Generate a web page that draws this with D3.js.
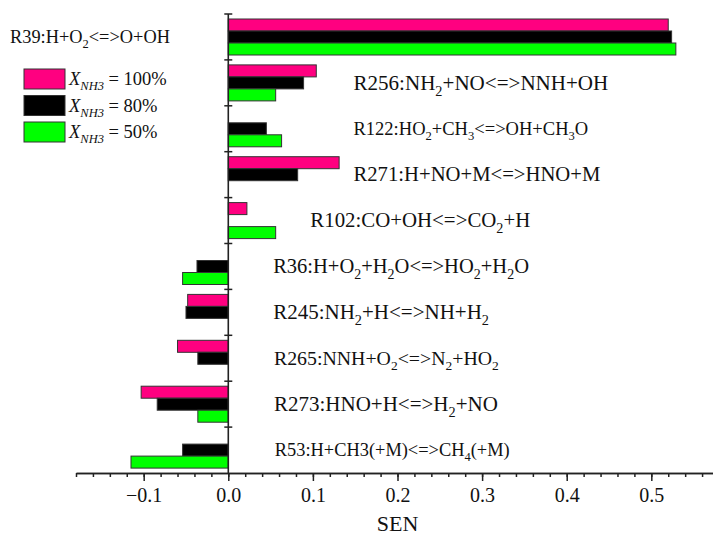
<!DOCTYPE html>
<html>
<head>
<meta charset="utf-8">
<script src="https://cdn.jsdelivr.net/npm/d3@7"></script>
<style>
  body { margin: 0; background: #fff; }
  text { font-family: "Liberation Serif", "Times New Roman", serif; fill: #111; }
</style>
</head>
<body>
<script>
/* Data */
// reaction labels, {x} = subscript
var reactions = [
  "R39:H+O{2}<=>O+OH",
  "R256:NH{2}+NO<=>NNH+OH",
  "R122:HO{2}+CH{3}<=>OH+CH{3}O",
  "R271:H+NO+M<=>HNO+M",
  "R102:CO+OH<=>CO{2}+H",
  "R36:H+O{2}+H{2}O<=>HO{2}+H{2}O",
  "R245:NH{2}+H<=>NH+H{2}",
  "R265:NNH+O{2}<=>N{2}+HO{2}",
  "R273:HNO+H<=>H{2}+NO",
  "R53:H+CH3(+M)<=>CH{4}(+M)"
];
var seriesNames = ["100%", "80%", "50%"];
var sen100 = [0.520, 0.104, null, 0.131, 0.022, null, -0.048, -0.060, -0.103, null];
var sen80  = [0.524, 0.089, 0.045, 0.082, null, -0.037, -0.050, -0.036, -0.084, -0.054];
var sen50  = [0.529, 0.056, 0.063, null, 0.056, -0.054, null, null, -0.036, -0.115];
var majorTicks = [-0.1, 0.0, 0.1, 0.2, 0.3, 0.4, 0.5];

/* Display setup */
var W = 713, H = 536,
    colors = ["#ff0080", "#000000", "#00ff00"],
    series = [sen100, sen80, sen50],
    // label start position in data units (R39 sits left of the axis) and its drawn width
    labelAt = [null, 0.148, 0.148, 0.148, 0.097, 0.053, 0.053, 0.054, 0.054, 0.055],
    labelWidth = [160, 255, 235, 247, 220, 256, 216, 225, 224, 235];

var svg = d3.select("body").append("svg")
    .attr("width", W)
    .attr("height", H);

svg.append("rect").attr("width", W).attr("height", H).style("fill", "white");

var x = d3.scaleLinear().domain([-0.18, 0.58]).range([76, 719]),
    y = d3.scaleBand().domain(d3.range(reactions.length)).range([14, 473]),
    inner = d3.scaleBand().domain([0, 1, 2]).range([5, 41]);

// puts "A{2}B" into a text element with subscripts
function richText(sel, str, size) {
  var parts = str.split(/\{(.*?)\}/),
      shift = size * 0.28;
  sel.selectAll("tspan").remove();
  sel.style("font-size", size + "px");
  parts.forEach(function(p, i) {
    if (p.length == 0) return;
    var t = sel.append("tspan").text(p);
    if (i % 2 == 1) {
      t.style("font-size", (size * 0.68) + "px").attr("dy", shift);
    } else if (i > 0 && parts[i - 1].length > 0) {
      t.attr("dy", -shift);
    }
  });
}

/* Bars */
var gBars = svg.append("g");
series.forEach(function(vals, j) {
  gBars.selectAll(null)
    .data(vals.map(function(v, i) { return {v: v, i: i}; }).filter(function(d) { return d.v !== null; }))
    .enter().append("rect")
      .attr("x", function(d) { return Math.min(x(0), x(d.v)); })
      .attr("y", function(d) { return y(d.i) + inner(j); })
      .attr("width", function(d) { return Math.abs(x(d.v) - x(0)); })
      .attr("height", inner.bandwidth())
      .style("fill", colors[j])
      .style("stroke", "#333")
      .style("stroke-width", 1);
});

/* X axis */
var xMinor = d3.axisBottom(x)
    .tickValues(d3.range(-0.18, 0.5801, 0.02))
    .tickSize(4).tickSizeOuter(0).tickFormat("");
var xMajor = d3.axisBottom(x)
    .tickValues(majorTicks)
    .tickSize(8).tickSizeOuter(0).tickPadding(7)
    .tickFormat(d3.format(".1f"));

var gx = svg.append("g").attr("transform", "translate(0,473)");
gx.call(xMinor);
gx.append("g").call(xMajor);
gx.selectAll(".domain").style("stroke", "#222").style("stroke-width", 1.6);
gx.selectAll(".tick line").style("stroke", "#222").style("stroke-width", 1.5);
gx.selectAll(".tick text")
    .style("font-family", "Liberation Serif")
    .style("font-size", "20px")
    .style("fill", "#111");

svg.append("text")
    .attr("x", x(0.2))
    .attr("y", 531)
    .attr("text-anchor", "middle")
    .style("font-size", "22px")
    .text("SEN");

/* Y axis (category separators) */
var gy = svg.append("g");
gy.append("line")
    .attr("x1", x(0)).attr("x2", x(0))
    .attr("y1", 14).attr("y2", 473)
    .style("stroke", "#222").style("stroke-width", 1.6);
gy.selectAll("line.sep")
    .data(d3.range(reactions.length))
    .enter().append("line")
      .attr("class", "sep")
      .attr("x1", x(0) - 4).attr("x2", x(0) + 4)
      .attr("y1", function(i) { return y(i); })
      .attr("y2", function(i) { return y(i); })
      .style("stroke", "#222").style("stroke-width", 1.5);

/* Reaction labels: sized so each fits the width it has in the figure */
reactions.forEach(function(r, i) {
  var t = svg.append("text")
    .attr("x", labelAt[i] === null ? 10 : x(labelAt[i]));
  richText(t, r, 17.5);
  var size = 17.5 * labelWidth[i] / t.node().getComputedTextLength();
  richText(t, r, size);
  t.attr("y", y(i) + y.bandwidth() / 2 + size * 0.33);
});

/* Legend */
var legend = svg.append("g").attr("transform", "translate(24,69)");
seriesNames.forEach(function(name, j) {
  var g = legend.append("g").attr("transform", "translate(0," + (j * 26.5) + ")");
  g.append("rect")
    .attr("width", 41).attr("height", 20)
    .style("fill", colors[j])
    .style("stroke", "#333").style("stroke-width", 1);
  var t = g.append("text")
    .attr("x", 45).attr("y", 16)
    .style("font-size", "18.5px");
  t.append("tspan").style("font-style", "italic").text("X");
  t.append("tspan").style("font-style", "italic").style("font-size", "12.5px").attr("dy", 5).text("NH3");
  t.append("tspan").attr("dy", -5).text(" = " + name);
});
</script>
</body>
</html>
